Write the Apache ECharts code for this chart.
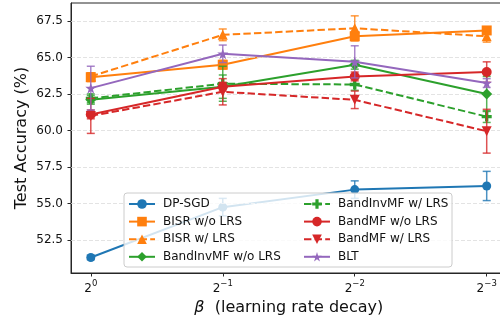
<!DOCTYPE html>
<html>
<head>
<meta charset="utf-8">
<script src="https://cdn.jsdelivr.net/npm/echarts@6/dist/echarts.min.js"></script>
<style>
  html, body { margin: 0; padding: 0; background: #fff; }
  #chart { width: 500px; height: 320px; }
</style>
</head>
<body>
<div id="chart"></div>
<script>
// Learning-rate decay exponent positions: beta = 2^0 ... 2^-3
const xPositions = [0, 1, 2, 3];
const xExponents = ['0', '\u22121', '\u22122', '\u22123'];
const yTicks = [52.5, 55.0, 57.5, 60.0, 62.5, 65.0, 67.5];

const names = [
  'DP-SGD', 'BISR w/o LRS', 'BISR w/ LRS', 'BandInvMF w/o LRS',
  'BandInvMF w/ LRS', 'BandMF w/o LRS', 'BandMF w/ LRS', 'BLT'
];

// Mean test accuracy (%) per method
const dpSgd        = [51.3, 54.75, 55.95, 56.2];
const bisrNoLrs    = [63.65, 64.5, 66.45, 66.85];
const bisrLrs      = [63.7, 66.55, 67.0, 66.45];
const bandInvNoLrs = [62.1, 63.0, 64.5, 62.5];
const bandInvLrs   = [62.2, 63.2, 63.15, 60.95];
const bandMfNoLrs  = [61.1, 63.0, 63.7, 64.0];
const bandMfLrs    = [61.0, 62.65, 62.1, 59.95];
const blt          = [62.9, 65.25, 64.7, 63.25];

// Standard deviation per method
const dpSgdErr        = [0.15, 0.6, 0.6, 1.0];
const bisrNoLrsErr    = [0.3, 0.3, 0.3, 0.2];
const bisrLrsErr      = [0.2, 0.4, 0.85, 0.4];
const bandInvNoLrsErr = [0.3, 0.8, 0.3, 1.2];
const bandInvLrsErr   = [0.3, 1.2, 0.4, 0.4];
const bandMfNoLrsErr  = [0.3, 0.3, 0.3, 0.7];
const bandMfLrsErr    = [1.2, 0.9, 0.6, 1.5];
const bltErr          = [1.5, 0.6, 1.1, 0.3];

const C = {
  blue: '#1f77b4', orange: '#ff7f0e', green: '#2ca02c',
  red: '#d62728', purple: '#9467bd'
};

const plusPath = 'path://M-1,-3L1,-3L1,-1L3,-1L3,1L1,1L1,3L-1,3L-1,1L-3,1L-3,-1L-1,-1Z';
const starPath = 'path://M0,-100L22.3,-30.7L95.1,-30.9L36.1,11.7L58.8,80.9L0,38L-58.8,80.9L-36.1,11.7L-95.1,-30.9L-22.3,-30.7Z';

const styles = [
  { mean: dpSgd,        err: dpSgdErr,        color: C.blue,   symbol: 'circle',   size: 9,  dashed: false },
  { mean: bisrNoLrs,    err: bisrNoLrsErr,    color: C.orange, symbol: 'rect',     size: 10, dashed: false },
  { mean: bisrLrs,      err: bisrLrsErr,      color: C.orange, symbol: 'triangle', size: 10, dashed: true },
  { mean: bandInvNoLrs, err: bandInvNoLrsErr, color: C.green,  symbol: 'diamond',  size: 11, dashed: false },
  { mean: bandInvLrs,   err: bandInvLrsErr,   color: C.green,  symbol: plusPath,   size: 10, dashed: true },
  { mean: bandMfNoLrs,  err: bandMfNoLrsErr,  color: C.red,    symbol: 'circle',   size: 10, dashed: false },
  { mean: bandMfLrs,    err: bandMfLrsErr,    color: C.red,    symbol: 'triangle', size: 10, dashed: true, rotate: 180 },
  { mean: blt,          err: bltErr,          color: C.purple, symbol: starPath,   size: 11, dashed: false }
];

const series = [];

// Horizontal dashed grid lines at the y ticks
series.push({
  type: 'line', data: [], silent: true, z: 1,
  markLine: {
    silent: true, symbol: 'none', animation: false,
    label: { show: false },
    lineStyle: { color: '#dcdcdc', width: 0.8, type: [4, 2] },
    data: yTicks.map(v => ({ yAxis: v }))
  }
});

styles.forEach((s, i) => {
  const z = 3 + i;
  // Error bars with caps
  series.push({
    type: 'custom', name: names[i] + ' err', z: z, silent: true,
    data: xPositions.map((x, k) => [x, s.mean[k] - s.err[k], s.mean[k] + s.err[k]]),
    renderItem: function (params, api) {
      const lo = api.coord([api.value(0), api.value(1)]);
      const hi = api.coord([api.value(0), api.value(2)]);
      const cap = 4;
      const st = { stroke: s.color, lineWidth: 1.5, opacity: 0.8 };
      return {
        type: 'group',
        children: [
          { type: 'line', shape: { x1: lo[0], y1: lo[1], x2: hi[0], y2: hi[1] }, style: st },
          { type: 'line', shape: { x1: lo[0] - cap, y1: lo[1], x2: lo[0] + cap, y2: lo[1] }, style: st },
          { type: 'line', shape: { x1: hi[0] - cap, y1: hi[1], x2: hi[0] + cap, y2: hi[1] }, style: st }
        ]
      };
    }
  });
  series.push({
    type: 'line', name: names[i], z: z,
    data: xPositions.map((x, k) => [x, s.mean[k]]),
    symbol: s.symbol, symbolSize: s.size, symbolRotate: s.rotate || 0,
    showAllSymbol: true,
    itemStyle: { color: s.color },
    lineStyle: { color: s.color, width: 2, type: s.dashed ? [7.4, 3.2] : 'solid' },
    emphasis: { disabled: true }
  });
});

const legendCommon = {
  orient: 'vertical', top: 198, padding: 0, itemWidth: 26, itemHeight: 12, itemGap: 5.6,
  z: 10, selectedMode: false,
  textStyle: { fontFamily: 'DejaVu Sans', fontSize: 12, color: '#111', lineHeight: 12, padding: [0, 0, 0, 3] }
};

const chart = echarts.init(document.getElementById('chart'), null, { renderer: 'canvas' });
chart.setOption({
  animation: false,
  backgroundColor: '#fff',
  textStyle: { fontFamily: 'DejaVu Sans' },
  grid: {
    left: 71, top: 3, width: 435.5, height: 270,
    outerBoundsMode: 'none', containLabel: false,
    show: true, borderColor: '#262626', borderWidth: 1, backgroundColor: '#fff'
  },
  xAxis: {
    type: 'value', min: -0.15, max: 3.15,
    name: '{b|\u03b2}  (learning rate decay)',
    nameLocation: 'middle', nameGap: 27, nameMoveOverlap: false,
    nameTextStyle: {
      fontSize: 16, color: '#111', fontFamily: 'DejaVu Sans',
      rich: { b: { fontSize: 16, fontStyle: 'italic', fontFamily: 'DejaVu Sans', color: '#111' } }
    },
    axisLine: { onZero: false, lineStyle: { color: '#262626', width: 1 } },
    axisTick: { show: true, customValues: xPositions, length: 3.5, lineStyle: { color: '#262626' } },
    splitLine: { show: false },
    axisLabel: {
      customValues: xPositions, margin: 6, color: '#111',
      formatter: function (v) {
        const k = xPositions.indexOf(Math.round(v));
        return '{b|2}{s|' + xExponents[k] + '}';
      },
      rich: {
        b: { fontSize: 12, color: '#111', fontFamily: 'DejaVu Sans', lineHeight: 16, verticalAlign: 'bottom' },
        s: { fontSize: 8.5, color: '#111', fontFamily: 'DejaVu Sans', lineHeight: 16, verticalAlign: 'top' }
      }
    }
  },
  yAxis: {
    type: 'value', min: 50.24, max: 68.73,
    name: 'Test Accuracy (%)', nameLocation: 'middle', nameGap: 41, nameMoveOverlap: false,
    nameTextStyle: { fontSize: 16, color: '#111', fontFamily: 'DejaVu Sans' },
    axisLine: { show: true, onZero: false, lineStyle: { color: '#262626', width: 1 } },
    axisTick: { show: true, customValues: yTicks, length: 3.5, lineStyle: { color: '#262626' } },
    splitLine: { show: false },
    axisLabel: {
      customValues: yTicks, margin: 8, fontSize: 12, color: '#111',
      formatter: v => v.toFixed(1)
    }
  },
  graphic: [{
    type: 'rect', z: 9, silent: true,
    shape: { x: 124, y: 193, width: 328, height: 74, r: 3 },
    style: { fill: 'rgba(255,255,255,0.8)', stroke: '#cccccc', lineWidth: 1 }
  }],
  legend: [
    Object.assign({}, legendCommon, { left: 128, data: names.slice(0, 4) }),
    Object.assign({}, legendCommon, { left: 303, data: names.slice(4, 8) })
  ],
  series: series
});
</script>
</body>
</html>
